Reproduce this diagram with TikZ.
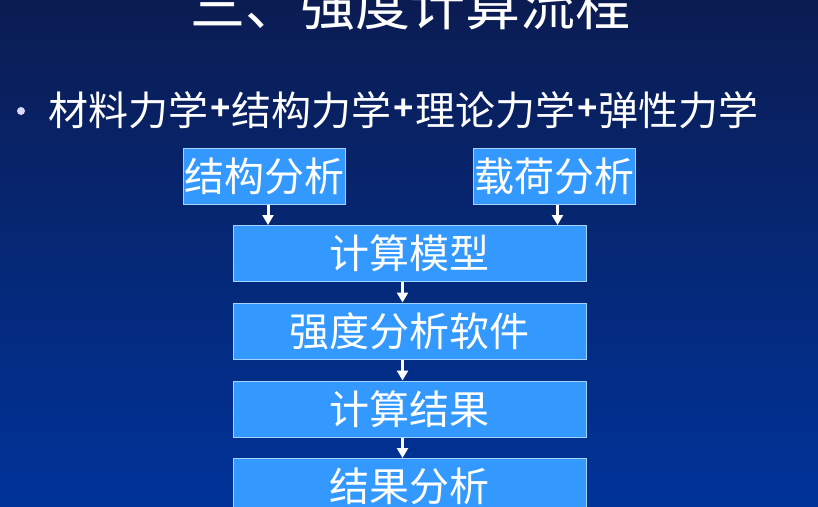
\documentclass[tikz,border=0pt]{standalone}
\usepackage{fontspec}
\newfontfamily\cjk{Noto Sans CJK SC}
\newfontfamily\plusfont{Liberation Sans}
\newcommand{\plusgl}{\hspace{2pt}\raisebox{5.5pt}{\plusfont\bfseries\fontsize{35}{35}\selectfont +}\hspace{1pt}}
\usetikzlibrary{arrows.meta}
\definecolor{boxfill}{HTML}{3399FF}
\definecolor{boxline}{HTML}{A6D2FF}
\definecolor{bgtop}{HTML}{0B1C52}
\definecolor{bgbot}{HTML}{003399}
\definecolor{bulletc}{HTML}{D8D8FF}
\tikzset{
  flowbox/.style={draw=boxline, line width=1pt, fill=boxfill, inner sep=0pt,
    text=white, font=\cjk\fontsize{40}{40}\selectfont, minimum height=56pt},
  smallbox/.style={flowbox, minimum width=162pt},
  widebox/.style={flowbox, minimum width=353pt},
  flowarrow/.style={draw=white, line width=3pt, -{Triangle[width=11pt,length=10pt]}},
}
\begin{document}
\begin{tikzpicture}[x=1pt,y=-1pt]
\useasboundingbox (0,0) rectangle (818,506);
\clip (0,0) rectangle (818,506);
\shade[top color=bgtop, bottom color=bgbot] (0,0) rectangle (818,506);
\node[anchor=base, text=white, inner sep=0pt, font=\cjk\fontsize{55}{55}\selectfont] (title) at (410,25) {三、强度计算流程};
\fill[bulletc] (21,111) circle (4);
\node[anchor=base west, text=white, inner sep=0pt, font=\cjk\fontsize{40}{40}\selectfont] (sub) at (48,125) {材料力学\plusgl 结构力学\plusgl 理论力学\plusgl 弹性力学};
\node[smallbox] (s1) at (264.5,176) {结构分析};
\node[smallbox] (s2) at (554,176) {载荷分析};
\node[widebox] (m1) at (409.5,253.5) {计算模型};
\node[widebox] (m2) at (409.5,331) {强度分析软件};
\node[widebox] (m3) at (409.5,409) {计算结果};
\node[widebox] (m4) at (409.5,486.5) {结果分析};
\draw[flowarrow] ([xshift=3.5pt]s1.south) -- ([xshift=3.5pt]s1.south |- m1.north);
\draw[flowarrow] ([xshift=3.5pt]s2.south) -- ([xshift=3.5pt]s2.south |- m1.north);
\draw[flowarrow] ([xshift=-7pt]m1.south) -- ([xshift=-7pt]m2.north);
\draw[flowarrow] ([xshift=-7pt]m2.south) -- ([xshift=-7pt]m3.north);
\draw[flowarrow] ([xshift=-7pt]m3.south) -- ([xshift=-7pt]m4.north);
\end{tikzpicture}
\end{document}
